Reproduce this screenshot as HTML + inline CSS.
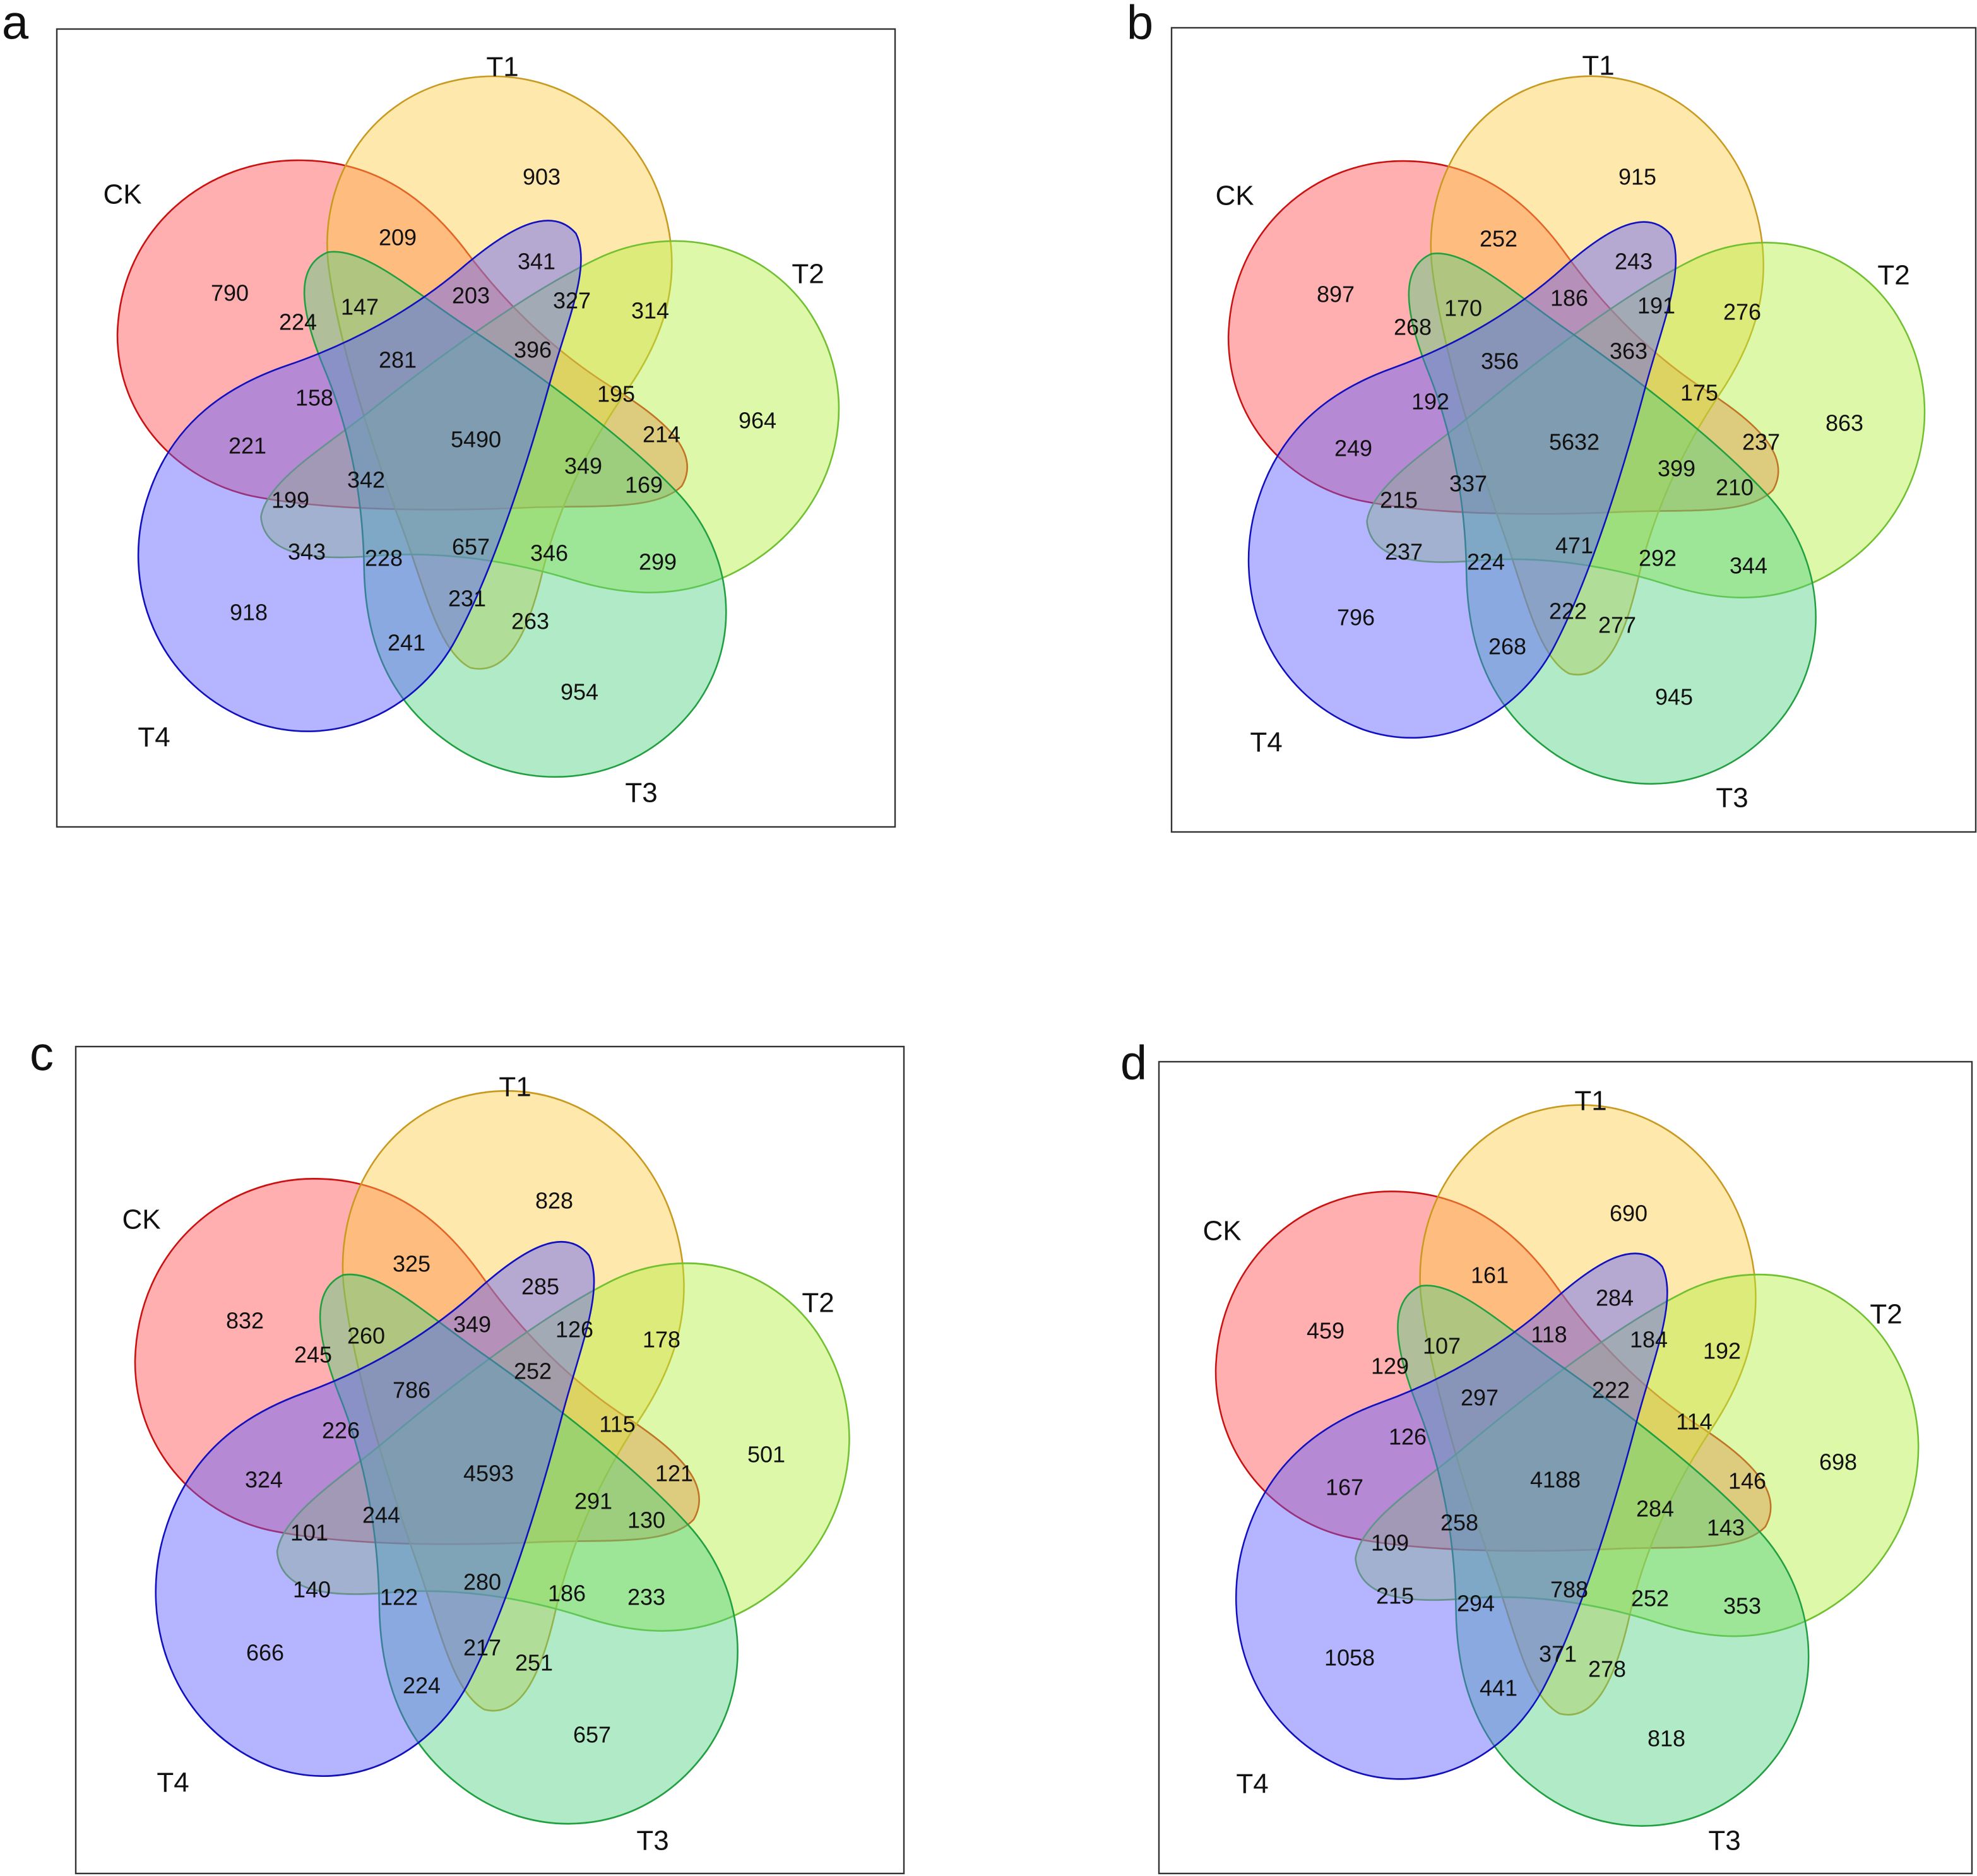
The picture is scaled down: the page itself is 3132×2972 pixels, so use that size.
<!DOCTYPE html>
<html>
<head>
<meta charset="utf-8">
<style>
html,body{margin:0;padding:0;background:#fff;}
svg{display:block;}
text{font-family:"Liberation Sans",Arial,sans-serif;fill:#111;text-anchor:middle;dominant-baseline:central;}
.n{font-size:18px;}
.s{font-size:22px;}
.p{font-size:38px;}
</style>
</head>
<body>
<svg width="3132" height="2972" viewBox="0 0 1566 1486" xmlns="http://www.w3.org/2000/svg">
<defs>
<path id="shape" d="M93,265 C95,180 165,125 240,127 C300,128 340,160 370,200 C400,240 440,280 490,310 C530,335 555,360 540,385 C520,405 470,400 420,402 C350,405 260,405 200,393 C140,380 93,330 93,265 Z"/>
<g id="venn">
<use href="#shape" fill="#ff4d4d" fill-opacity="0.45" stroke="#cc1010" stroke-width="1.3"/>
<use href="#shape" transform="translate(-12,20) rotate(72 377 340)" fill="#ffcc44" fill-opacity="0.45" stroke="#c99a20" stroke-width="1.3"/>
<use href="#shape" transform="translate(-12,10) rotate(144 377 340)" fill="#b4f040" fill-opacity="0.45" stroke="#70c030" stroke-width="1.3"/>
<use href="#shape" transform="translate(-12,-8) rotate(216 377 340)" fill="#50d080" fill-opacity="0.45" stroke="#20a040" stroke-width="1.3"/>
<use href="#shape" transform="translate(-14,-14) rotate(288 377 340)" fill="#5a5aff" fill-opacity="0.45" stroke="#1010c0" stroke-width="1.3"/>
</g>
</defs>

<!-- Panel a -->
<g>
<rect x="45" y="23" width="664" height="632" fill="none" stroke="#333" stroke-width="1.2"/>
<use href="#venn"/>
<text class="p" x="12" y="18">a</text>
<text class="s" x="97" y="154">CK</text><text class="s" x="398" y="53">T1</text><text class="s" x="640" y="217">T2</text><text class="s" x="508" y="628">T3</text><text class="s" x="122" y="584">T4</text>
<g>
<text class="n" x="429" y="140">903</text><text class="n" x="315" y="188">209</text><text class="n" x="182" y="232">790</text><text class="n" x="425" y="207">341</text><text class="n" x="373" y="234">203</text><text class="n" x="453" y="238">327</text><text class="n" x="515" y="246">314</text><text class="n" x="236" y="255">224</text><text class="n" x="285" y="243">147</text><text class="n" x="315" y="285">281</text><text class="n" x="422" y="277">396</text><text class="n" x="488" y="312">195</text><text class="n" x="249" y="315">158</text><text class="n" x="377" y="348">5490</text><text class="n" x="600" y="333">964</text><text class="n" x="524" y="344">214</text><text class="n" x="196" y="353">221</text><text class="n" x="290" y="380">342</text><text class="n" x="462" y="369">349</text><text class="n" x="510" y="384">169</text><text class="n" x="230" y="396">199</text><text class="n" x="243" y="437">343</text><text class="n" x="304" y="442">228</text><text class="n" x="373" y="433">657</text><text class="n" x="435" y="438">346</text><text class="n" x="521" y="445">299</text><text class="n" x="197" y="485">918</text><text class="n" x="370" y="474">231</text><text class="n" x="420" y="492">263</text><text class="n" x="322" y="509">241</text><text class="n" x="459" y="548">954</text>
</g>
</g>

<!-- Panel b -->
<g>
<rect x="928" y="22" width="637" height="637" fill="none" stroke="#333" stroke-width="1.2"/>
<use href="#venn" transform="matrix(0.965,0,0,1.01,883.3,-0.67)"/>
<text class="p" x="903" y="18">b</text>
<text class="s" x="978" y="155">CK</text><text class="s" x="1266" y="52">T1</text><text class="s" x="1500" y="218">T2</text><text class="s" x="1372" y="632">T3</text><text class="s" x="1003" y="588">T4</text>
<g>
<text class="n" x="1297" y="140">915</text><text class="n" x="1187" y="189">252</text><text class="n" x="1058" y="233">897</text><text class="n" x="1294" y="207">243</text><text class="n" x="1243" y="236">186</text><text class="n" x="1312" y="242">191</text><text class="n" x="1380" y="247">276</text><text class="n" x="1119" y="259">268</text><text class="n" x="1159" y="244">170</text><text class="n" x="1188" y="286">356</text><text class="n" x="1290" y="278">363</text><text class="n" x="1346" y="311">175</text><text class="n" x="1133" y="318">192</text><text class="n" x="1247" y="350">5632</text><text class="n" x="1461" y="335">863</text><text class="n" x="1395" y="350">237</text><text class="n" x="1072" y="355">249</text><text class="n" x="1163" y="383">337</text><text class="n" x="1328" y="371">399</text><text class="n" x="1374" y="386">210</text><text class="n" x="1108" y="396">215</text><text class="n" x="1112" y="437">237</text><text class="n" x="1177" y="445">224</text><text class="n" x="1247" y="432">471</text><text class="n" x="1313" y="442">292</text><text class="n" x="1385" y="448">344</text><text class="n" x="1074" y="489">796</text><text class="n" x="1242" y="484">222</text><text class="n" x="1281" y="495">277</text><text class="n" x="1194" y="512">268</text><text class="n" x="1326" y="552">945</text>
</g>
</g>

<!-- Panel c -->
<g>
<rect x="60" y="829" width="656" height="655" fill="none" stroke="#333" stroke-width="1.2"/>
<use href="#venn" transform="matrix(0.99,0,0,1.046,14.9,800.9)"/>
<text class="p" x="33" y="835">c</text>
<text class="s" x="112" y="966">CK</text><text class="s" x="408" y="861">T1</text><text class="s" x="648" y="1032">T2</text><text class="s" x="517" y="1458">T3</text><text class="s" x="137" y="1412">T4</text>
<g>
<text class="n" x="439" y="951">828</text><text class="n" x="326" y="1001">325</text><text class="n" x="194" y="1046">832</text><text class="n" x="428" y="1019">285</text><text class="n" x="374" y="1049">349</text><text class="n" x="455" y="1053">126</text><text class="n" x="524" y="1061">178</text><text class="n" x="248" y="1073">245</text><text class="n" x="290" y="1058">260</text><text class="n" x="326" y="1101">786</text><text class="n" x="422" y="1086">252</text><text class="n" x="489" y="1128">115</text><text class="n" x="270" y="1133">226</text><text class="n" x="387" y="1167">4593</text><text class="n" x="607" y="1152">501</text><text class="n" x="534" y="1167">121</text><text class="n" x="209" y="1172">324</text><text class="n" x="302" y="1200">244</text><text class="n" x="470" y="1189">291</text><text class="n" x="512" y="1204">130</text><text class="n" x="245" y="1214">101</text><text class="n" x="247" y="1259">140</text><text class="n" x="316" y="1265">122</text><text class="n" x="382" y="1253">280</text><text class="n" x="449" y="1262">186</text><text class="n" x="512" y="1265">233</text><text class="n" x="210" y="1309">666</text><text class="n" x="382" y="1305">217</text><text class="n" x="423" y="1317">251</text><text class="n" x="334" y="1335">224</text><text class="n" x="469" y="1374">657</text>
</g>
</g>

<!-- Panel d -->
<g>
<rect x="918" y="841" width="644" height="643" fill="none" stroke="#333" stroke-width="1.2"/>
<use href="#venn" transform="matrix(0.974,0,0,1.029,872.4,813.1)"/>
<text class="p" x="898" y="842">d</text>
<text class="s" x="968" y="975">CK</text><text class="s" x="1260" y="872">T1</text><text class="s" x="1494" y="1041">T2</text><text class="s" x="1366" y="1458">T3</text><text class="s" x="992" y="1413">T4</text>
<g>
<text class="n" x="1290" y="961">690</text><text class="n" x="1180" y="1010">161</text><text class="n" x="1050" y="1054">459</text><text class="n" x="1279" y="1028">284</text><text class="n" x="1227" y="1057">118</text><text class="n" x="1306" y="1061">184</text><text class="n" x="1364" y="1070">192</text><text class="n" x="1101" y="1082">129</text><text class="n" x="1142" y="1066">107</text><text class="n" x="1172" y="1107">297</text><text class="n" x="1276" y="1101">222</text><text class="n" x="1342" y="1126">114</text><text class="n" x="1115" y="1138">126</text><text class="n" x="1232" y="1172">4188</text><text class="n" x="1456" y="1158">698</text><text class="n" x="1384" y="1173">146</text><text class="n" x="1065" y="1178">167</text><text class="n" x="1156" y="1206">258</text><text class="n" x="1311" y="1195">284</text><text class="n" x="1367" y="1210">143</text><text class="n" x="1101" y="1222">109</text><text class="n" x="1105" y="1264">215</text><text class="n" x="1169" y="1270">294</text><text class="n" x="1243" y="1259">788</text><text class="n" x="1307" y="1266">252</text><text class="n" x="1380" y="1272">353</text><text class="n" x="1069" y="1313">1058</text><text class="n" x="1234" y="1310">371</text><text class="n" x="1273" y="1322">278</text><text class="n" x="1187" y="1337">441</text><text class="n" x="1320" y="1377">818</text>
</g>
</g>
</svg>
</body>
</html>
